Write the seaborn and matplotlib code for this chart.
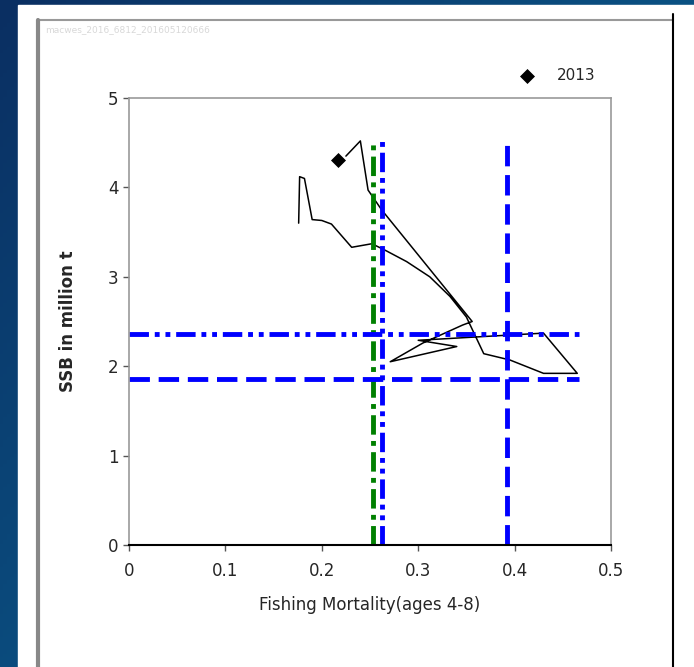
import numpy as np
import matplotlib
matplotlib.use("Agg")
import matplotlib.pyplot as plt
import seaborn as sns
import pandas as pd
from matplotlib.lines import Line2D
from matplotlib.patches import Rectangle

# trajectory of F vs SSB
f_vals = [0.176, 0.177, 0.182, 0.190, 0.200, 0.210, 0.231, 0.252, 0.267, 0.288,
          0.312, 0.333, 0.350, 0.368, 0.395, 0.430, 0.465, 0.430, 0.300, 0.340,
          0.271, 0.305, 0.346, 0.356, 0.262, 0.248, 0.240, 0.225]
ssb_vals = [3.60, 4.12, 4.10, 3.64, 3.63, 3.59, 3.33, 3.37, 3.29, 3.17,
            3.00, 2.78, 2.55, 2.14, 2.07, 1.92, 1.92, 2.37, 2.29, 2.22,
            2.05, 2.26, 2.46, 2.50, 3.75, 3.97, 4.52, 4.35]

last_year = "2013"
last_f = 0.217
last_ssb = 4.31

# reference points
f_green = 0.253
f_blue_dd = 0.262
f_blue_dash = 0.392
b_blue_dd = 2.36
b_blue_dash = 1.86
line_f_max = 0.467
line_b_max = 4.53

xticks = [0, 0.1, 0.2, 0.3, 0.4, 0.5]
xtick_labels = ["0", "0.1", "0.2", "0.3", "0.4", "0.5"]
yticks = [0, 1, 2, 3, 4, 5]

sns.set_style("white")
plt.rcParams['font.family'] = ['DejaVu Sans']

W, H = 694, 667
fig = plt.figure(figsize=(W / 100, H / 100), dpi=100)

# blue gradient background
bg = fig.add_axes([0, 0, 1, 1], zorder=-10)
gx, gy = np.meshgrid(np.linspace(0, 1, 200), np.linspace(0, 1, 200))
grad = 0.55 * gx + 0.45 * gy
cmap = matplotlib.colors.LinearSegmentedColormap.from_list("bg", ["#0a2f62", "#0a6e9e"])
bg.imshow(grad, cmap=cmap, aspect="auto", extent=[0, 1, 0, 1], origin="upper")
bg.add_patch(Rectangle((18 / W, 0), 1, 1 - 5 / H, color="white", transform=bg.transAxes))
bg.set_xlim(0, 1)
bg.set_ylim(0, 1)
bg.axis("off")

# frame lines
fig.add_artist(Line2D([38 / W, 673 / W], [1 - 20 / H, 1 - 20 / H], color="#999999", lw=1.5))
fig.add_artist(Line2D([38 / W, 38 / W], [0, 1 - 20 / H], color="#888888", lw=3))
fig.add_artist(Line2D([673 / W, 673 / W], [0, 1 - 14 / H], color="black", lw=1.5))

fig.text(45 / W, 1 - 30 / H, "macwes_2016_6812_201605120666", fontsize=6.5,
         color="#d8d8d8", va="center", ha="left")

ax = fig.add_axes([129 / W, 1 - 545 / H, 482 / W, 447 / H])

df = pd.DataFrame({"F": f_vals, "SSB": ssb_vals})
sns.lineplot(data=df, x="F", y="SSB", sort=False, estimator=None, color="black",
             lw=1.1, ax=ax)

dash_dot = (0, (4, 1.3, 1, 1.3))
dash_dot_dot = (0, (4, 1.2, 1, 1.2, 1, 1.2))
dashed = (0, (4.2, 1.8))
ax.plot([f_green, f_green], [0, line_b_max], color="green", lw=3.5, ls=dash_dot)
ax.plot([f_blue_dd, f_blue_dd], [0, line_b_max], color="blue", lw=3.5, ls=dash_dot_dot)
ax.plot([f_blue_dash, f_blue_dash], [0, line_b_max], color="blue", lw=3.5, ls=dashed)
ax.plot([0, line_f_max], [b_blue_dd, b_blue_dd], color="blue", lw=3.5, ls=dash_dot_dot)
ax.plot([0, line_f_max], [b_blue_dash, b_blue_dash], color="blue", lw=3.5, ls=dashed)

sns.scatterplot(x=[last_f], y=[last_ssb], marker="D", s=50, color="black",
                edgecolor="black", ax=ax, label=last_year, zorder=5)

ax.set_xlim(0, 0.5)
ax.set_ylim(0, 5)
ax.set_xticks(xticks)
ax.set_xticklabels(xtick_labels)
ax.set_yticks(yticks)
ax.tick_params(axis="both", direction="out", length=4, width=1, labelsize=12,
               bottom=True, left=True, color="#555555")
ax.tick_params(axis="x", pad=8)
for s in ["top", "right", "left"]:
    ax.spines[s].set_color("#999999")
    ax.spines[s].set_linewidth(1.2)
ax.spines["bottom"].set_color("black")
ax.spines["bottom"].set_linewidth(1.5)

ax.set_xlabel("Fishing Mortality(ages 4-8)", fontsize=12, labelpad=12)
ax.set_ylabel("SSB in million t", fontsize=12, fontweight="bold", labelpad=22)

ax.legend(loc="lower right", bbox_to_anchor=(1.0, 1.0), frameon=False,
          fontsize=11, handletextpad=1.0, borderaxespad=0.6)

fig.savefig("out.png", dpi=100)
